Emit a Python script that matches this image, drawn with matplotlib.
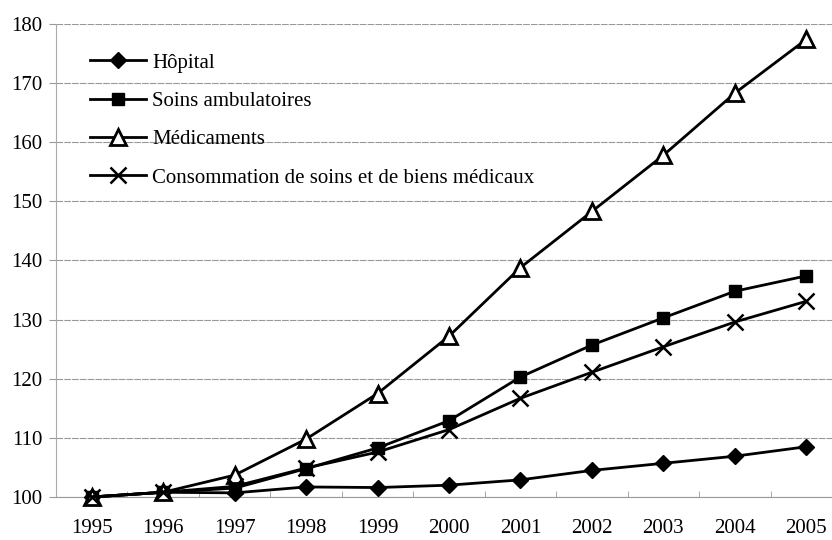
# Évolution des dépenses de santé (base 100 en 1995)
import numpy as np
import matplotlib
matplotlib.use('Agg')
import matplotlib.pyplot as plt

annees = ['1995', '1996', '1997', '1998', '1999', '2000', '2001', '2002', '2003', '2004', '2005']
hopital = [100, 100.8, 100.7, 101.7, 101.6, 102.0, 102.9, 104.5, 105.7, 106.9, 108.5]
soins_amb = [100, 100.8, 101.5, 104.8, 108.3, 112.9, 120.3, 125.7, 130.3, 134.8, 137.4]
medicaments = [100, 100.8, 103.7, 109.8, 117.5, 127.2, 138.8, 148.3, 157.8, 168.3, 177.4]
consommation = [100, 100.8, 101.8, 104.9, 107.6, 111.4, 116.7, 121.1, 125.4, 129.6, 133.1]

plt.rcParams['font.family'] = ['Liberation Serif', 'DejaVu Serif']

fig = plt.figure(figsize=(8.32, 5.40), dpi=100)
ax = fig.add_axes([56/832, 1 - 497/540, 786/832, 473/540])

x = np.arange(len(annees))
style = dict(color='black', linewidth=2, clip_on=False, zorder=3)
ax.plot(x, hopital, marker='D', markersize=8, markerfacecolor='black', label='Hôpital', **style)
ax.plot(x, soins_amb, marker='s', markersize=9, markerfacecolor='black', label='Soins ambulatoires', **style)
ax.plot(x, medicaments, marker='^', markersize=11, markerfacecolor='white', markeredgewidth=2,
        label='Médicaments', **style)
ax.plot(x, consommation, marker='x', markersize=12, markeredgewidth=1.8,
        label='Consommation de soins et de biens médicaux', **style)

ax.set_xlim(-0.5, len(annees) - 0.5)
ax.set_ylim(100, 180)
ax.set_yticks(range(100, 181, 10))
ax.set_xticks(x)
ax.set_xticklabels(annees)
ax.set_xticks(np.arange(-0.5, len(annees), 1), minor=True)
ax.tick_params(axis='x', which='major', length=0, pad=16, labelsize=15)
ax.tick_params(axis='x', which='minor', length=4, color='#999999', direction='in')
ax.tick_params(axis='y', length=5, color='#999999', labelsize=15, pad=5)

ax.yaxis.grid(True, color='#999999', linewidth=0.8, linestyle=(0, (6, 1)))
ax.set_axisbelow(True)
for s in ['top', 'right']:
    ax.spines[s].set_visible(False)
ax.spines['left'].set_color('#aaaaaa')
ax.spines['left'].set_linestyle((0, (3, 1)))
ax.spines['bottom'].set_color('#999999')

ax.legend(loc='upper left', bbox_to_anchor=(90/832, 1 - 53/540), bbox_transform=fig.transFigure,
          frameon=False, fontsize=15, handlelength=2.7, handletextpad=0.3,
          labelspacing=0.9, borderpad=0, borderaxespad=0)

fig.savefig('out.png', dpi=100, facecolor='white')
